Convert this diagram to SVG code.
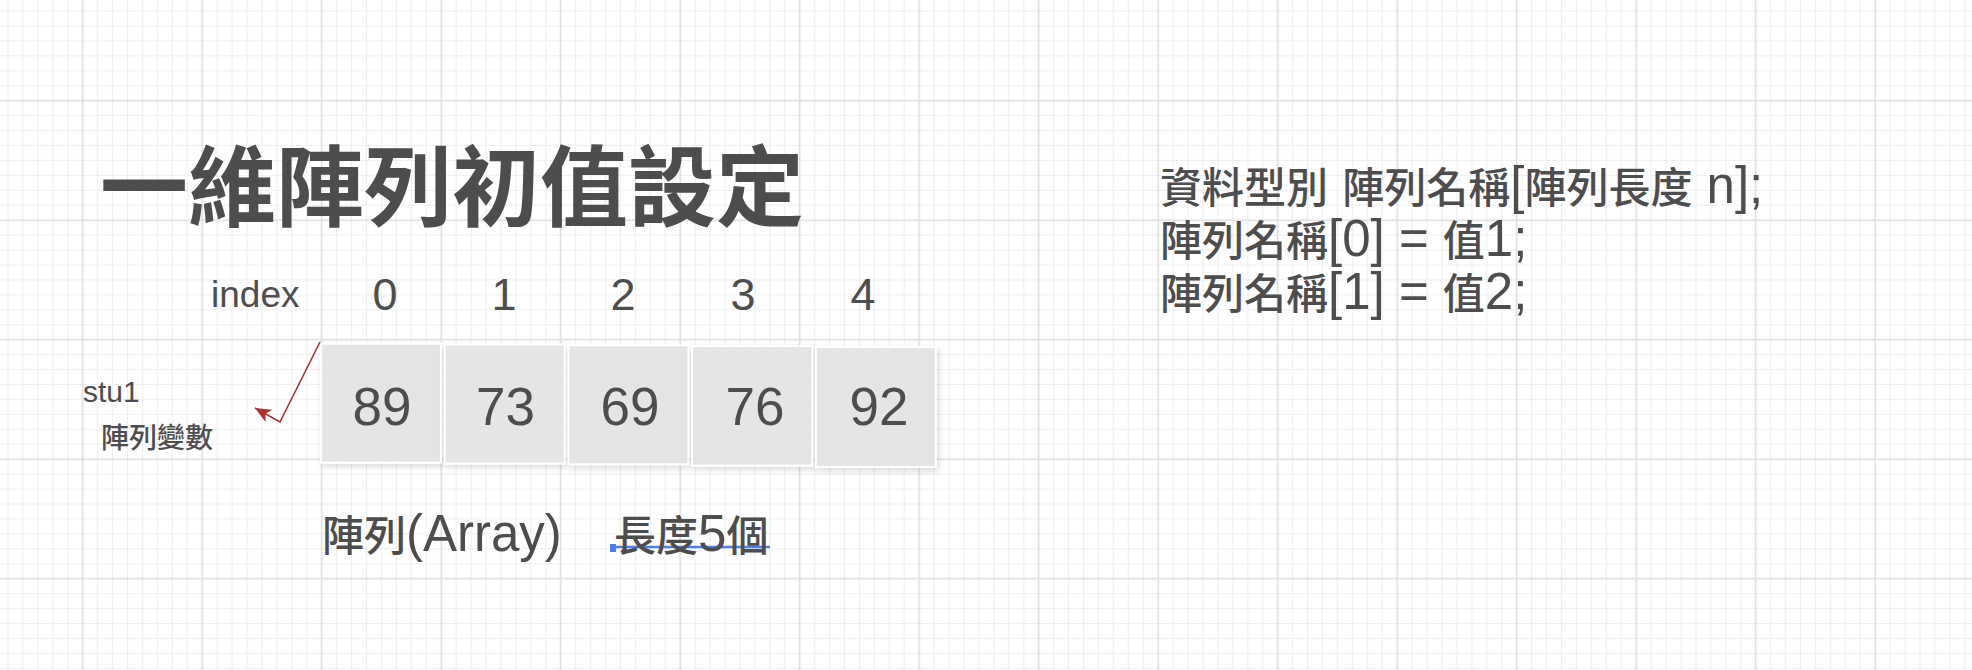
<svg xmlns="http://www.w3.org/2000/svg" width="1972" height="670" viewBox="0 0 1972 670">
  <style>
    .lat { font-family: "Liberation Sans", Arial, "Noto Sans CJK TC", sans-serif; fill: #4d4d4d; }
    .cjk { font-family: "Noto Sans CJK TC", "Liberation Sans", sans-serif; fill: #4d4d4d; font-weight: 500; }
    .title { font-size: 88px; font-weight: 600; }
    .idx { font-size: 45px; text-anchor: middle; }
    .val { font-size: 53px; text-anchor: middle; }
    .cell { fill: #e5e5e5; stroke: #ffffff; stroke-width: 2; filter: url(#shadow); }
    .c42 { font-size: 42px; }
    .l51 { font-family: "Liberation Sans", Arial, sans-serif; font-size: 51px; font-weight: 400; }
    .minor { stroke: #efefef; stroke-width: 1.2; fill: none; }
    .major { stroke: #dcdcdc; stroke-width: 1.5; fill: none; }
    .conn { stroke: #a83232; stroke-width: 1.6; fill: none; }
  </style>
  <defs>
    <pattern id="grid" x="75.23" y="93.23" width="119.5" height="119.5" patternUnits="userSpaceOnUse">
      <path class="minor" d="M22.41 0V119.5M37.35 0V119.5M52.28 0V119.5M67.22 0V119.5M82.16 0V119.5M97.09 0V119.5M112.03 0V119.5M0 22.41H119.5M0 37.35H119.5M0 52.28H119.5M0 67.22H119.5M0 82.16H119.5M0 97.09H119.5M0 112.03H119.5"/>
      <path class="major" d="M7.47 0V119.5M0 7.47H119.5"/>
    </pattern>
    <filter id="shadow" x="-10%" y="-10%" width="130%" height="130%">
      <feDropShadow dx="2" dy="3" stdDeviation="3" flood-color="#000000" flood-opacity="0.14"/>
    </filter>
    <marker id="arrow" markerUnits="userSpaceOnUse" markerWidth="18" markerHeight="14" refX="16" refY="7" orient="auto">
      <path d="M0 0L16 7L0 14L4 7Z" fill="#a83232"/>
    </marker>
  </defs>

  <rect x="0" y="0" width="1972" height="670" fill="#ffffff"/>
  <rect x="0" y="0" width="1972" height="670" fill="url(#grid)"/>

  <g id="title">
    <text class="cjk title" x="100" y="219">一維陣列初值設定</text>
  </g>

  <g id="index-row">
    <text class="lat" x="211" y="307" font-size="37">index</text>
    <text class="lat idx" x="385" y="310">0</text>
    <text class="lat idx" x="504" y="310">1</text>
    <text class="lat idx" x="623" y="310">2</text>
    <text class="lat idx" x="743" y="310">3</text>
    <text class="lat idx" x="863" y="310">4</text>
  </g>

  <g id="cell-0">
    <rect class="cell" x="321" y="343.7" width="120" height="119"/>
    <text class="lat val" x="382" y="425">89</text>
  </g>
  <g id="cell-1">
    <rect class="cell" x="444.7" y="344.5" width="120" height="119"/>
    <text class="lat val" x="505.5" y="425">73</text>
  </g>
  <g id="cell-2">
    <rect class="cell" x="568.4" y="345.3" width="120" height="119"/>
    <text class="lat val" x="630" y="425">69</text>
  </g>
  <g id="cell-3">
    <rect class="cell" x="692.1" y="346.1" width="120" height="119.5"/>
    <text class="lat val" x="755" y="425">76</text>
  </g>
  <g id="cell-4">
    <rect class="cell" x="815.8" y="347" width="120" height="120"/>
    <text class="lat val" x="879" y="425">92</text>
  </g>

  <g id="stu1">
    <text class="lat" x="83" y="402" font-size="30">stu1</text>
  </g>
  <g id="array-variable">
    <text class="cjk" x="101" y="448" font-size="28">陣列變數</text>
  </g>

  <g id="array-label">
    <text class="cjk c42" x="322" y="551">陣列<tspan class="l51">(Array)</tspan></text>
  </g>
  <g id="length-label">
    <rect x="610" y="544" width="6" height="8" fill="#4d7ef7"/>
    <line x1="613" y1="547" x2="770" y2="547" stroke="#4d7ef7" stroke-width="2.5"/>
    <text class="cjk c42" x="614" y="551">長度<tspan class="l51">5</tspan>個</text>
  </g>

  <g id="syntax">
    <text class="cjk c42" x="1160" y="203">資料型別<tspan class="l51"> </tspan>陣列名稱<tspan class="l51">[</tspan>陣列長度<tspan class="l51"> n];</tspan></text>
    <text class="cjk c42" x="1160" y="256">陣列名稱<tspan class="l51">[0] = </tspan>值<tspan class="l51">1;</tspan></text>
    <text class="cjk c42" x="1160" y="309">陣列名稱<tspan class="l51">[1] = </tspan>值<tspan class="l51">2;</tspan></text>
  </g>

  <g id="connectors">
    <path class="conn" d="M320 342L280 422L255 408" marker-end="url(#arrow)"/>
  </g>
</svg>
